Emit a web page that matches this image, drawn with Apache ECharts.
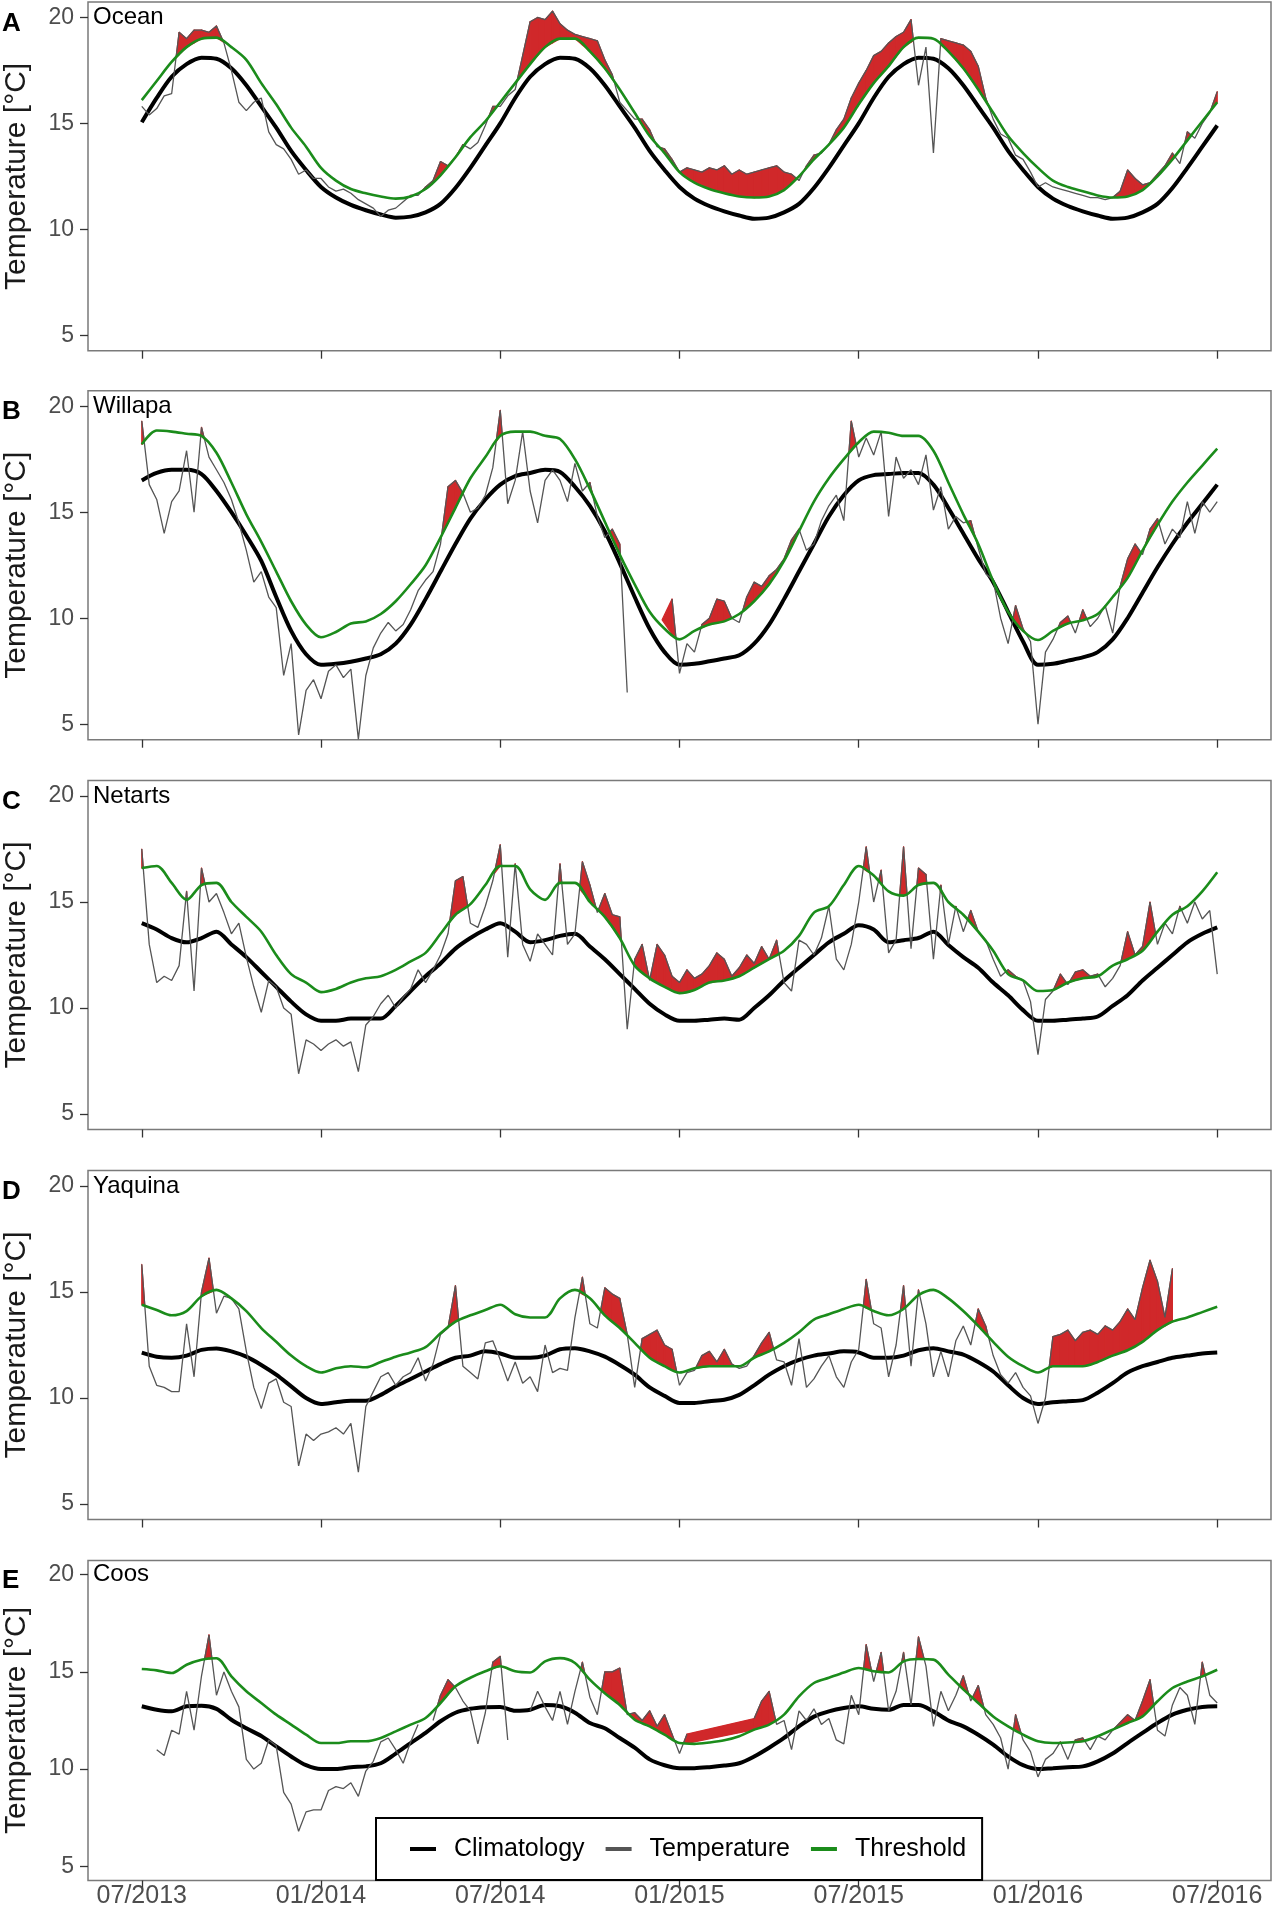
<!DOCTYPE html>
<html>
<head>
<meta charset="utf-8">
<script src="https://cdn.jsdelivr.net/npm/echarts@6/dist/echarts.min.js"></script>
<style>
  html, body { margin: 0; padding: 0; background: #fff; }
  #main { width: 1273px; height: 1915px; }
</style>
</head>
<body>
<div id="main"></div>
<script>
// x is months since 07/2013
var tickMonths = [0, 6, 12, 18, 24, 30, 36];
var tickLabels = ['07/2013', '01/2014', '07/2014', '01/2015', '07/2015', '01/2016', '07/2016'];
var yTicks = [5, 10, 15, 20];
var sites = ['Ocean', 'Willapa', 'Netarts', 'Yaquina', 'Coos'];
var panelLetters = ['A', 'B', 'C', 'D', 'E'];

// climatology + threshold: twice a month (x = 0, 0.5, ... 36)
// temperature: every quarter month (x = 0, 0.25, ... 36), null = no data
var climOcean = [15.05, 16.2, 17.2, 17.8, 18.1, 18.05, 17.6, 16.8, 15.8, 14.8, 13.7, 12.8,
  12.0, 11.5, 11.15, 10.9, 10.7, 10.55, 10.6, 10.8, 11.2, 11.95, 12.9, 13.95,
  15.0, 16.2, 17.2, 17.8, 18.1, 18.05, 17.6, 16.8, 15.8, 14.8, 13.7, 12.8,
  12.0, 11.45, 11.1, 10.85, 10.65, 10.5, 10.55, 10.8, 11.2, 11.95, 12.9, 13.95,
  15.0, 16.2, 17.2, 17.8, 18.1, 18.05, 17.6, 16.8, 15.8, 14.8, 13.7, 12.8,
  12.0, 11.45, 11.1, 10.85, 10.65, 10.5, 10.55, 10.8, 11.2, 11.95, 12.9, 13.9,
  14.9];
var thrOcean = [16.1, 17.0, 17.9, 18.6, 19.0, 19.05, 18.6, 18.0, 16.9, 15.9, 14.8, 13.9,
  12.9, 12.3, 11.9, 11.7, 11.55, 11.45, 11.55, 11.9, 12.55, 13.4, 14.35, 15.1,
  16.0, 16.9, 17.8, 18.6, 19.0, 19.0, 18.4, 17.6, 16.6, 15.5, 14.4, 13.6,
  12.7, 12.2, 11.9, 11.7, 11.55, 11.5, 11.55, 11.85, 12.5, 13.3, 14.0, 14.8,
  15.9, 16.9, 17.7, 18.6, 19.05, 19.0, 18.4, 17.6, 16.6, 15.5, 14.4, 13.6,
  12.9, 12.3, 12.0, 11.8, 11.6, 11.5, 11.55, 11.85, 12.5, 13.3, 14.2, 15.1,
  16.0];
var tempOcean = [15.8, 15.4, 15.7, 16.3, 16.4, 19.3, 19.0, 19.4, 19.4, 19.3, 19.6, 18.8, 17.5, 16.0, 15.6, 16.0, 16.2, 14.6, 14.0, 13.8, 13.3, 12.6, 12.8, 12.4,
  12.4, 12.0, 11.8, 11.9, 11.7, 11.4, 11.2, 11.0, 10.6, 10.9, 11.0, 11.3, 11.6, 11.6, 12.0, 12.3, 13.2, 13.0, 13.4, 14.0, 13.8, 14.1, 14.9, 15.8,
  15.8, 16.3, 16.6, 18.2, 19.8, 20.0, 19.9, 20.3, 19.7, 19.4, 19.2, 19.1, 19.0, 18.9, 18.0, 17.3, 16.0, 15.6, 15.2, 15.2, 14.7, 13.9, 13.8, 13.3,
  12.7, 12.9, 12.8, 12.7, 12.9, 12.8, 13.0, 12.6, 12.8, 12.6, 12.7, 12.8, 12.9, 13.0, 12.7, 12.6, 12.3, 13.0, 13.5, 13.6, 14.0, 14.7, 15.2, 16.2,
  16.9, 17.5, 18.2, 18.4, 18.8, 19.1, 19.3, 19.9, 16.8, 18.6, 13.6, 19.0, 18.9, 18.8, 18.7, 18.4, 17.7, 16.2, 15.2, 14.5, 14.3, 13.5, 13.3, 12.7,
  12.0, 12.2, 12.0, 11.9, 11.8, 11.7, 11.6, 11.5, 11.5, 11.4, 11.5, 11.8, 12.8, 12.4, 12.1, 12.2, 12.6, 13.0, 13.6, 13.1, 14.6, 14.3, 15.0, 15.5,
  16.5];

var climWillapa = [16.5, 16.85, 17.0, 17.0, 16.8, 16.0, 15.0, 13.9, 12.7, 11.0, 9.4, 8.3,
  7.8, 7.85, 7.95, 8.1, 8.3, 8.8, 9.7, 10.9, 12.2, 13.5, 14.7, 15.6,
  16.3, 16.7, 16.85, 17.0, 16.9, 16.2, 15.3, 14.1, 12.6, 11.0, 9.5, 8.4,
  7.8, 7.85, 7.97, 8.1, 8.25, 8.8, 9.7, 10.9, 12.2, 13.5, 14.8, 15.8,
  16.5, 16.75, 16.8, 16.85, 16.85, 16.3, 15.2, 14.0, 12.8, 11.7, 10.3, 8.9,
  7.8, 7.85, 8.0, 8.15, 8.4, 9.0, 10.0, 11.2, 12.4, 13.5, 14.5, 15.4,
  16.3];
var thrWillapa = [18.2, 18.85, 18.8, 18.7, 18.6, 17.8, 16.4, 14.9, 13.6, 12.2, 10.8, 9.7,
  9.1, 9.35, 9.75, 9.85, 10.2, 10.8, 11.6, 12.5, 13.8, 15.2, 16.6, 17.6,
  18.6, 18.8, 18.8, 18.6, 18.45, 17.5, 16.1, 14.55, 13.0, 11.6, 10.3, 9.5,
  9.0, 9.4, 9.7, 9.85, 10.2, 10.8, 11.6, 12.7, 14.1, 15.5, 16.6, 17.5,
  18.3, 18.8, 18.75, 18.6, 18.6, 17.9, 16.4, 14.9, 13.5, 11.75, 10.3, 9.4,
  8.97, 9.4, 9.75, 9.9, 10.2, 11.0, 11.9, 13.2, 14.4, 15.5, 16.4, 17.2,
  18.0];
var tempWillapa = [19.3, 16.3, 15.6, 14.0, 15.5, 16.0, 17.9, 15.0, 19.0, 17.6, 17.0, 16.4, 15.6, 14.5, 13.2, 11.7, 12.2, 11.0, 10.5, 7.3, 8.8, 4.5, 6.6, 7.1,
  6.2, 7.5, 7.8, 7.2, 7.6, 4.3, 7.3, 8.6, 9.3, 9.8, 9.4, 9.7, 10.4, 11.3, 11.8, 12.2, 13.5, 16.2, 16.5, 15.9, 15.0, 15.2, 15.8, 17.1,
  19.8, 15.4, 16.5, 18.8, 16.0, 14.5, 16.5, 17.0, 16.5, 15.5, 17.3, 16.0, 16.4, 14.8, 13.8, 14.2, 13.5, 6.5, null, null, null, null, null, 10.9,
  7.4, 8.8, 8.4, 9.7, 10.0, 10.9, 10.8, 10.0, 9.8, 11.0, 11.7, 11.5, 12.0, 12.3, 12.8, 13.7, 14.2, 13.2, 13.5, 14.6, 15.3, 15.8, 14.6, 19.3,
  17.6, 18.5, 17.7, 18.8, 14.8, 17.6, 16.6, 17.0, 16.3, 17.7, 15.1, 16.2, 14.2, 14.8, 14.5, 14.6, 13.3, 12.1, 11.8, 10.0, 8.8, 10.6, 9.5, 8.9,
  5.0, 8.4, 9.0, 9.8, 10.1, 9.3, 10.4, 9.6, 10.0, 10.6, 9.3, 11.5, 12.8, 13.5, 13.0, 14.2, 14.7, 13.5, 14.2, 13.8, 15.5, 14.0, 15.5, 15.0,
  15.5];

var climNetarts = [14.0, 13.7, 13.3, 13.1, 13.3, 13.6, 13.0, 12.4, 11.7, 11.0, 10.3, 9.7,
  9.4, 9.4, 9.5, 9.5, 9.5, 10.1, 10.8, 11.5, 12.1, 12.8, 13.3, 13.7,
  14.0, 13.6, 13.1, 13.2, 13.4, 13.5, 12.9, 12.3, 11.6, 10.9, 10.2, 9.7,
  9.4, 9.4, 9.45, 9.5, 9.45, 10.0, 10.6, 11.3, 11.9, 12.5, 13.1, 13.5,
  13.9, 13.7, 13.1, 13.2, 13.3, 13.6, 12.97, 12.4, 11.9, 11.2, 10.6, 9.9,
  9.4, 9.4, 9.45, 9.5, 9.6, 10.1, 10.6, 11.3, 11.9, 12.5, 13.1, 13.5,
  13.8];
var thrNetarts = [16.6, 16.7, 15.9, 15.1, 15.8, 15.9, 15.0, 14.3, 13.6, 12.5, 11.6, 11.2,
  10.75, 10.9, 11.2, 11.4, 11.5, 11.8, 12.2, 12.6, 13.5, 14.4, 14.9, 15.8,
  16.7, 16.7, 15.6, 15.1, 15.9, 15.9, 15.0, 14.3, 13.3, 12.0, 11.4, 11.0,
  10.7, 10.85, 11.2, 11.3, 11.5, 11.9, 12.3, 12.7, 13.4, 14.5, 14.8, 15.8,
  16.7, 16.25, 15.5, 15.3, 15.8, 15.9, 15.0, 14.4, 13.6, 12.7, 11.6, 11.3,
  10.8, 10.85, 11.2, 11.4, 11.5, 12.0, 12.3, 12.7, 13.6, 14.4, 14.8, 15.5,
  16.4];
var tempNetarts = [17.5, 13.0, 11.2, 11.5, 11.3, 12.0, 15.5, 10.8, 16.6, 15.0, 15.4, 14.5, 13.5, 14.0, 12.4, 11.0, 9.8, 11.3, 11.0, 10.0, 9.7, 6.9, 8.5, 8.3,
  8.0, 8.3, 8.5, 8.2, 8.4, 7.0, 9.2, 9.6, 10.2, 10.6, 10.0, 10.5, 10.9, 11.8, 11.2, 11.8, 12.5, 13.5, 16.0, 16.2, 14.0, 13.8, 14.8, 16.0,
  17.7, 12.4, 16.8, 13.0, 12.2, 13.5, 13.0, 12.5, 16.8, 13.0, 13.5, 16.9, 15.8, 14.5, 15.4, 14.4, 14.3, 9.0, 12.3, 13.0, 11.3, 13.0, 12.5, 11.5,
  11.2, 11.8, 11.4, 11.6, 12.0, 12.6, 12.3, 11.5, 11.9, 12.5, 12.1, 12.9, 12.3, 13.2, 11.2, 10.8, 13.2, 13.0, 12.5, 13.3, 14.8, 12.3, 11.8, 13.0,
  15.0, 17.6, 15.0, 16.5, 12.6, 13.2, 17.6, 12.8, 16.6, 16.3, 12.3, 15.8, 13.0, 14.8, 13.6, 14.6, 13.6, 13.2, 12.3, 11.5, 11.8, 11.5, 11.3, 10.3,
  7.8, 10.4, 10.8, 11.6, 11.1, 11.7, 11.8, 11.5, 11.6, 11.0, 11.4, 12.0, 13.6, 12.5, 12.9, 15.0, 13.0, 14.0, 13.5, 14.8, 14.0, 15.0, 14.2, 14.6,
  11.6];

var climYaquina = [12.14, 11.95, 11.9, 12.0, 12.27, 12.34, 12.2, 11.95, 11.56, 11.1, 10.55, 10.0,
  9.72, 9.8, 9.87, 9.87, 10.15, 10.55, 10.9, 11.25, 11.6, 11.9, 12.0, 12.2,
  12.1, 11.9, 11.9, 12.0, 12.3, 12.35, 12.2, 11.95, 11.56, 11.1, 10.5, 10.1,
  9.77, 9.77, 9.85, 9.92, 10.15, 10.6, 11.1, 11.5, 11.8, 12.0, 12.1, 12.2,
  12.15, 11.9, 11.9, 12.0, 12.25, 12.35, 12.2, 12.05, 11.7, 11.25, 10.6, 10.0,
  9.72, 9.8, 9.85, 9.9, 10.25, 10.7, 11.2, 11.5, 11.7, 11.9, 12.0, 12.1,
  12.15];
var thrYaquina = [14.4, 14.15, 13.9, 14.1, 14.8, 15.1, 14.7, 14.1, 13.3, 12.65, 12.0, 11.5,
  11.2, 11.4, 11.5, 11.45, 11.7, 11.95, 12.15, 12.4, 13.05, 13.6, 13.9, 14.15,
  14.4, 13.95, 13.8, 13.8, 14.7, 15.1, 14.7, 13.9, 13.3, 12.6, 11.9, 11.5,
  11.2, 11.4, 11.5, 11.5, 11.5, 11.9, 12.2, 12.6, 13.1, 13.7, 13.95, 14.2,
  14.4, 14.1, 13.9, 14.2, 14.85, 15.1, 14.7, 14.1, 13.4, 12.65, 11.95, 11.5,
  11.2, 11.5, 11.5, 11.5, 11.7, 12.0, 12.25, 12.65, 13.2, 13.6, 13.8, 14.05,
  14.3];
var tempYaquina = [16.3, 11.5, 10.6, 10.5, 10.3, 10.3, 13.5, 11.0, 15.0, 16.6, 14.0, 14.8, 14.7, 14.2, 12.2, 10.5, 9.5, 10.7, 10.9, 9.8, 9.6, 6.8, 8.3, 8.0,
  8.3, 8.4, 8.6, 8.3, 8.8, 6.5, 9.6, 10.3, 11.0, 11.2, 10.6, 11.0, 11.2, 11.9, 10.8, 11.6, 13.0, 13.3, 15.3, 11.5, 11.2, 10.9, 12.6, 12.7,
  11.8, 10.8, 11.7, 10.7, 11.0, 10.3, 12.5, 11.2, 11.4, 11.3, 13.8, 15.7, 13.5, 13.3, 15.2, 14.9, 14.7, 13.0, 10.5, 12.8, 13.0, 13.2, 12.5, 12.3,
  10.6, 11.2, 11.3, 12.0, 12.2, 11.7, 12.3, 11.6, 11.4, 11.5, 12.0, 12.6, 13.1, 11.8, 11.7, 10.6, 12.8, 10.5, 10.9, 11.5, 12.0, 11.0, 10.5, 11.7,
  12.3, 15.6, 13.5, 13.3, 11.0, 12.5, 15.3, 11.5, 15.1, 13.5, 11.0, 12.2, 11.0, 12.7, 13.4, 12.5, 14.2, 13.4, 12.0, 11.1, 10.7, 11.2, 10.5, 10.1,
  8.8, 10.0, 12.9, 13.0, 13.2, 12.7, 13.1, 13.2, 13.0, 13.4, 13.2, 13.6, 14.2, 13.7, 15.2, 16.5, 15.5, 13.8, 16.1, null, null, null, null, null,
  null];

var climCoos = [13.23, 13.05, 12.97, 13.23, 13.26, 13.1, 12.54, 12.1, 11.7, 11.17, 10.65, 10.2,
  10.0, 10.0, 10.1, 10.14, 10.3, 10.8, 11.34, 11.86, 12.46, 12.9, 13.1, 13.18,
  13.2, 13.0, 13.05, 13.3, 13.23, 12.9, 12.37, 12.1, 11.6, 11.1, 10.5, 10.2,
  10.05, 10.05, 10.1, 10.18, 10.3, 10.65, 11.1, 11.6, 12.2, 12.7, 12.97, 13.14,
  13.23, 13.1, 13.05, 13.3, 13.3, 12.97, 12.5, 12.2, 11.77, 11.26, 10.65, 10.2,
  10.0, 10.05, 10.1, 10.14, 10.4, 10.8, 11.34, 11.86, 12.37, 12.8, 13.05, 13.2,
  13.23];
var thrCoos = [15.15, 15.08, 14.94, 15.37, 15.63, 15.7, 14.77, 14.0, 13.4, 12.8, 12.29, 11.77,
  11.34, 11.34, 11.43, 11.43, 11.6, 11.94, 12.29, 12.63, 13.4, 14.26, 14.7, 15.03,
  15.29, 15.03, 14.97, 15.54, 15.71, 15.46, 14.6, 13.9, 13.3, 12.54, 12.2, 11.77,
  11.34, 11.3, 11.37, 11.48, 11.69, 12.03, 12.29, 12.8, 13.74, 14.43, 14.7, 14.97,
  15.2, 15.03, 14.97, 15.54, 15.66, 15.63, 14.86, 14.1, 13.4, 12.71, 12.2, 11.77,
  11.43, 11.34, 11.37, 11.43, 11.69, 12.03, 12.37, 12.71, 13.49, 14.17, 14.51, 14.77,
  15.11];
var tempCoos = [null, null, 11.0, 10.7, 12.0, 11.8, 14.0, 12.0, 14.8, 16.9, 13.8, 15.0, 14.0, 13.2, 10.5, 10.0, 10.3, 11.5, 11.2, 8.8, 8.2, 6.8, 7.8, 7.9,
  7.9, 8.9, 9.1, 9.0, 9.3, 8.6, 9.9, 10.4, 11.4, 11.6, 11.0, 10.3, 11.4, 12.3, null, 12.5, 13.8, 14.6, 14.2, 13.5, 13.0, 11.3, 12.9, 15.5,
  15.8, 11.5, null, null, 13.0, 14.0, 13.2, 12.5, 14.0, 12.3, 14.0, 15.5, 13.7, 12.8, 15.0, 15.0, 15.2, 12.8, 12.9, 12.5, 13.0, 12.2, 12.8, 11.8,
  10.8, 11.8, null, null, null, null, null, null, null, null, 12.6, 13.5, 14.0, 12.3, 12.5, 11.0, 13.0, 12.5, 13.1, 12.3, 12.6, 11.5, 11.3, 13.8,
  12.8, 16.4, 14.5, 16.0, 13.0, 14.0, 16.0, 13.3, 16.8, 15.3, 12.2, 14.0, 13.0, 13.8, 14.8, 13.5, 14.3, 12.8, 12.3, 11.6, 10.0, 12.8, 11.5, 10.9,
  9.6, 10.5, 10.8, 11.4, 10.5, 11.5, 11.6, 11.0, 11.7, 11.5, 12.0, 12.4, 12.8, 12.5, 13.5, 14.6, 12.0, 11.7, 13.3, 14.2, 13.8, 12.3, 15.5, 13.8,
  13.4];

var panels = [
  { clim: climOcean, thr: thrOcean, temp: tempOcean },
  { clim: climWillapa, thr: thrWillapa, temp: tempWillapa },
  { clim: climNetarts, thr: thrNetarts, temp: tempNetarts },
  { clim: climYaquina, thr: thrYaquina, temp: tempYaquina },
  { clim: climCoos, thr: thrCoos, temp: tempCoos }
];

var font = 'Liberation Sans, Arial, Helvetica, sans-serif';
var tops = [2, 390.7, 780.5, 1170.5, 1560.5];
var heights = [348.7, 349, 349, 349, 320];
var fillColor = '#d0282a';

// threshold at a temperature x position (for the red flame fill)
function thrAt(thr, x) {
  var j = x * 2, i0 = Math.floor(j), f = j - i0;
  if (i0 + 1 >= thr.length) return thr[thr.length - 1];
  return thr[i0] * (1 - f) + thr[i0 + 1] * f;
}

// red polygon between temperature and threshold where temperature is above it
function renderFlame(params, api) {
  var x0 = api.value(0), t0 = api.value(1), h0 = api.value(2);
  var x1 = api.value(3), t1 = api.value(4), h1 = api.value(5);
  var d0 = t0 - h0, d1 = t1 - h1, poly, f;
  if (d0 >= 0 && d1 >= 0) {
    poly = [[x0, t0], [x1, t1], [x1, h1], [x0, h0]];
  } else if (d0 >= 0) {
    f = d0 / (d0 - d1);
    poly = [[x0, t0], [x0 + f * (x1 - x0), h0 + f * (h1 - h0)], [x0, h0]];
  } else {
    f = d0 / (d0 - d1);
    poly = [[x0 + f * (x1 - x0), h0 + f * (h1 - h0)], [x1, t1], [x1, h1]];
  }
  return {
    type: 'polygon',
    shape: { points: poly.map(function (q) { return api.coord(q); }) },
    style: { fill: fillColor, stroke: fillColor, lineWidth: 1.2, lineJoin: 'round' }
  };
}

var chart = echarts.init(document.getElementById('main'));
var grids = [], xAxes = [], yAxes = [], series = [], titles = [];

panels.forEach(function (p, i) {
  grids.push({
    left: 88, right: 2, top: tops[i], height: heights[i],
    show: true, borderColor: '#7a7a7a', borderWidth: 1.5, backgroundColor: '#fff',
    outerBoundsMode: 'none'
  });
  xAxes.push({
    type: 'value', gridIndex: i, min: -1.8, max: 37.8,
    axisLine: { show: false, onZero: false }, splitLine: { show: false },
    axisTick: { show: true, length: 8, customValues: tickMonths, lineStyle: { color: '#333', width: 1.3 } },
    axisLabel: {
      show: i === 4, customValues: tickMonths, fontSize: 25, color: '#4d4d4d', margin: 3, fontFamily: font,
      formatter: function (v) { return tickLabels[tickMonths.indexOf(v)] || ''; }
    }
  });
  yAxes.push({
    type: 'value', gridIndex: i, min: 4.27, max: 20.73,
    axisLine: { show: false, onZero: false }, splitLine: { show: false },
    axisTick: { show: true, length: 8, customValues: yTicks, lineStyle: { color: '#333', width: 1.3 } },
    axisLabel: { customValues: yTicks, fontSize: 23, color: '#4d4d4d', margin: 14, fontFamily: font },
    name: 'Temperature [°C]', nameLocation: 'middle', nameGap: 56, nameRotate: 90,
    nameTextStyle: { fontSize: 30, color: '#1a1a1a', fontFamily: font }
  });

  var tick20 = i === 4 ? 14.2 : 15.5;
  titles.push({
    text: panelLetters[i], left: 2, top: tops[i] + tick20 - 7, padding: 0,
    textStyle: { fontSize: 26, fontWeight: 'bold', color: '#000', fontFamily: font }
  });
  titles.push({
    text: sites[i], left: 93, top: tops[i] + tick20 - 12, padding: 0,
    textStyle: { fontSize: 24, fontWeight: 'normal', color: '#000', fontFamily: font }
  });

  // segments of the temperature line (gaps bridged) that rise above the threshold
  var pts = [], segs = [];
  p.temp.forEach(function (t, k) {
    if (t !== null) pts.push([k / 4, t, thrAt(p.thr, k / 4)]);
  });
  for (var k = 0; k < pts.length - 1; k++) {
    var a = pts[k], b = pts[k + 1];
    if (a[1] > a[2] || b[1] > b[2]) segs.push([a[0], a[1], a[2], b[0], b[1], b[2]]);
  }
  series.push({
    name: 'flame' + i, type: 'custom', xAxisIndex: i, yAxisIndex: i,
    data: segs, renderItem: renderFlame, silent: true, clip: true, z: 1,
    encode: { x: [0, 3], y: [1, 2, 4, 5] }
  });

  series.push({
    name: 'Climatology', type: 'line', xAxisIndex: i, yAxisIndex: i,
    data: p.clim.map(function (v, j) { return [j / 2, v]; }),
    symbol: 'none', smooth: 0.3, itemStyle: { color: '#000' },
    lineStyle: { color: '#000', width: 4 }, z: 2
  });
  series.push({
    name: 'Temperature', type: 'line', xAxisIndex: i, yAxisIndex: i,
    data: p.temp.map(function (v, k) { return [k / 4, v === null ? '-' : v]; }),
    symbol: 'none', itemStyle: { color: '#555' },
    lineStyle: { color: '#555', width: 1.3 }, z: 3
  });
  series.push({
    name: 'Threshold', type: 'line', xAxisIndex: i, yAxisIndex: i,
    data: p.thr.map(function (v, j) { return [j / 2, v]; }),
    symbol: 'none', smooth: 0.3, itemStyle: { color: '#1b8c1b' },
    lineStyle: { color: '#1b8c1b', width: 2.6 }, z: 4
  });
});

chart.setOption({
  animation: false,
  backgroundColor: '#fff',
  title: titles,
  grid: grids,
  xAxis: xAxes,
  yAxis: yAxes,
  legend: {
    data: [
      { name: 'Climatology', icon: 'rect' },
      { name: 'Temperature', icon: 'rect' },
      { name: 'Threshold', icon: 'rect' }
    ],
    left: 376, top: 1818, orient: 'horizontal',
    padding: [17, 16, 17, 34], itemGap: 21, itemWidth: 26, itemHeight: 4,
    borderColor: '#000', borderWidth: 2, backgroundColor: '#fff',
    selectedMode: false,
    textStyle: { fontSize: 25, color: '#000', fontFamily: font, padding: [0, 0, 0, 13], lineHeight: 28 }
  },
  series: series
});
</script>
</body>
</html>
